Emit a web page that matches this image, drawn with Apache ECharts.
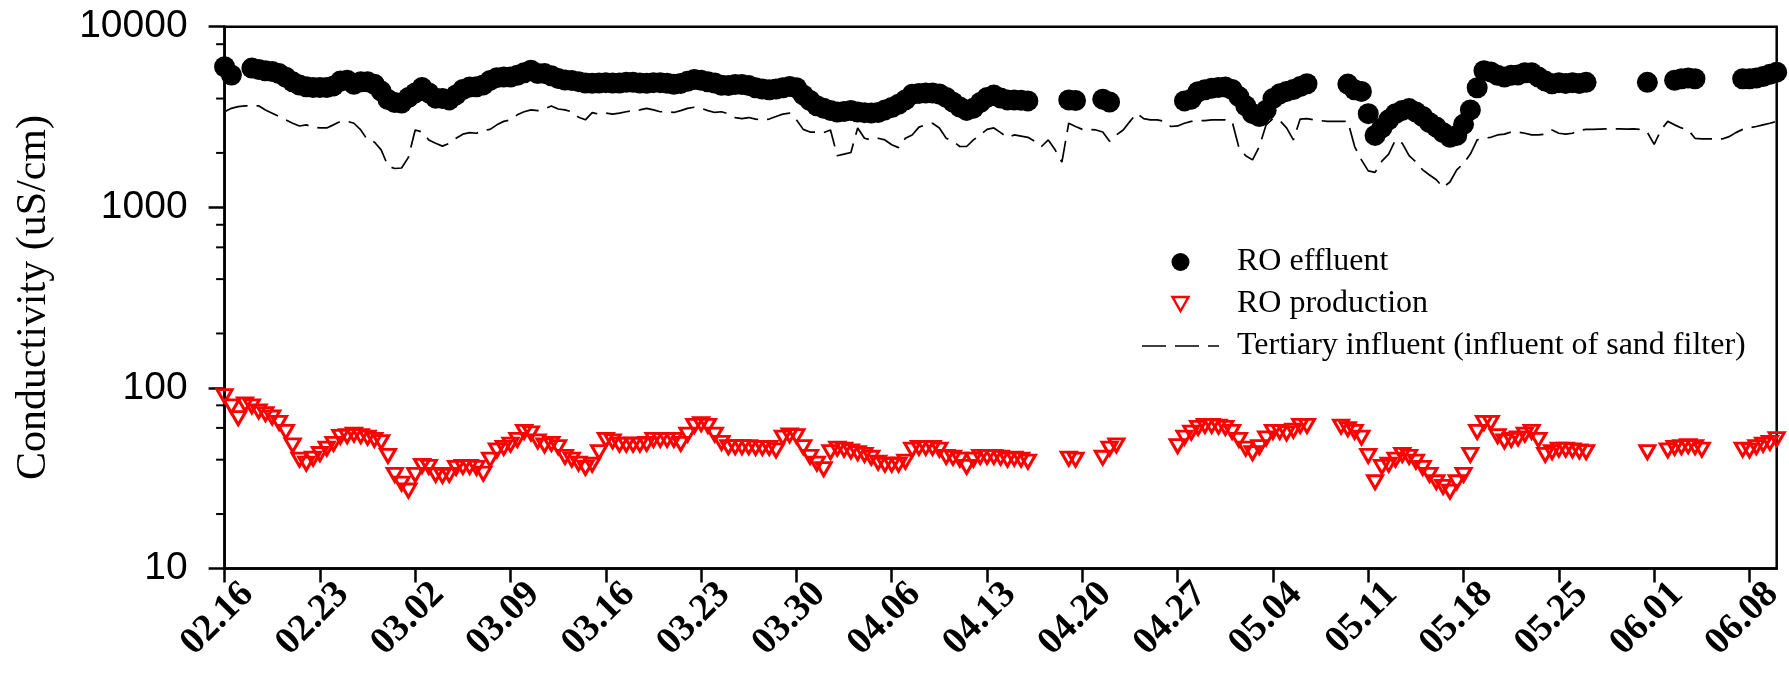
<!DOCTYPE html>
<html>
<head>
<meta charset="utf-8">
<script src="https://cdn.jsdelivr.net/npm/echarts@6/dist/echarts.min.js"></script>
<style>
html, body { margin: 0; padding: 0; background: #fff; }
#chart { width: 1789px; height: 674px; }
</style>
</head>
<body>
<div id="chart"></div>
<script>
// Tick labels (one per week, starting 02.16)
const tickLabels = ['02.16','02.23','03.02','03.09','03.16','03.23','03.30','04.06','04.13','04.20','04.27','05.04','05.11','05.18','05.25','06.01','06.08'];
const yMinorTicks = [20, 40, 60, 80, 200, 400, 600, 800, 2000, 4000, 6000, 8000];
const seriesNames = ['RO effluent', 'RO production', 'Tertiary influent (influent of sand filter)'];
// samples every half day from 02.16 (day 0) to day 114
const sampleStepDays = 0.5;

const effluent = [
  6000, 5400, null, null, 5900, 5800, 5700, 5650, 5500, 5250,
  4950, 4750, 4650, 4600, 4600, 4600, 4700, 5000, 5050, 4800,
  4950, 4950, 4800, 4400, 3950, 3800, 3780, 4050, 4300, 4600,
  4300, 4020, 4000, 3930, 4190, 4490, 4640, 4650, 4760, 5040,
  5220, 5260, 5260, 5380, 5560, 5740, 5500, 5500, 5350, 5170,
  5060, 5040, 4960, 4880, 4860, 4880, 4900, 4880, 4880, 4920,
  4920, 4880, 4860, 4900, 4900, 4860, 4800, 4850, 4980, 5100,
  5050, 4950, 4880, 4740, 4720, 4780, 4780, 4720, 4590, 4520,
  4470, 4520, 4590, 4660, 4590, 4190, 3900, 3650, 3540, 3440,
  3370, 3390, 3440, 3370, 3340, 3330, 3350, 3460, 3570, 3720,
  3930, 4220, 4270, 4300, 4300, 4240, 4060, 3820, 3590, 3440,
  3540, 3800, 4060, 4180, 4030, 3930, 3930, 3910, 3880, null,
  null, null, null, null, 3930, 3900, null, null, null, 3970,
  3830, null, null, null, null, null, null, null, null, null,
  null, 3880, 3970, 4360, 4470, 4560, 4610, 4640, 4490, 4100,
  3650, 3300, 3180, 3450, 4000, 4250, 4380, 4490, 4660, 4830,
  null, null, null, null, null, 4810, 4470, 4380, 3300, 2500,
  2750, 3050, 3300, 3440, 3520, 3370, 3180, 2940, 2780, 2590,
  2440, 2500, 2880, 3460, 4590, 5700, 5620, 5380, 5260, 5380,
  5410, 5560, 5560, 5260, 5000, 4830, 4900, 4850, 4900, 4850,
  4920, null, null, null, null, null, null, null, null, 4920,
  null, null, null, 5050, 5150, 5200, 5150, null, null, null,
  null, null, null, 5150, 5150, 5200, 5300, 5450, 5600
];

const production = [
  90, 79, 68, 81, 79, 74, 71.5, 68.5, 64, 57,
  48, 40, 38, 40.5, 43, 46, 49, 53.5, 54, 55,
  54, 53, 51.5, 50, 42, 33, 29.5, 27, 33, 37,
  36.5, 33, 32.5, 33, 36, 36.5, 36.5, 36, 33.5, 40,
  45, 46.5, 48.5, 51.5, 57, 56, 50.5, 48, 49, 47,
  41.5, 40, 38, 36, 37.5, 44, 51.5, 50.5, 48.5, 48.5,
  48.5, 48.5, 49, 51.5, 51.5, 51.5, 51.5, 49, 55, 61.5,
  63, 61.5, 55, 49.5, 47, 47, 47, 47, 46.5, 46.5,
  46.5, 45, 53, 54.5, 54, 47, 41.5, 38, 35.5, 44,
  46, 45.5, 44.5, 43.5, 42.5, 41, 38.5, 37.5, 37.5, 37.5,
  39, 45.5, 46.5, 46.5, 46.5, 45.5, 41.5, 41, 40, 36.5,
  40, 41.5, 41.5, 41.5, 41, 40, 40.5, 40, 39, null,
  null, null, null, null, 40.5, 40, null, null, null, 41,
  46, 48, null, null, null, null, null, null, null, null,
  47.5, 53, 56.5, 60, 61.5, 61.5, 61, 60, 57, 51.5,
  46, 43.5, 47, 52.5, 57, 57, 56, 58, 61.5, 61.5,
  null, null, null, null, 61, 59, 57, 53, 42, 30,
  36.5, 37.5, 40, 42.5, 41.5, 39, 36, 33, 30, 28.3,
  26.6, 30, 33, 42.5, 57, 64, 64, 54, 50.5, 51.5,
  52.5, 55, 57, 51.5, 42.5, 44, 45.5, 45.5, 45, 44.5,
  44, null, null, null, null, null, null, null, null, 44,
  null, null, 45, 46.5, 47, 47.5, 47, 45.5, null, null,
  null, null, null, 45.5, 45, 47, 48.5, 49.5, 52
];

const influent = [
  3380, 3530, 3610, 3640, 3640, 3650, 3460, 3320, 3180, 3050,
  2920, 2820, 2860, 2780, 2750, 2750, 2860, 2990, 2990, 2920,
  2680, 2360, 2300, 2080, 1690, 1640, 1650, 1890, 2680, 2610,
  2360, 2260, 2180, 2260, 2410, 2540, 2590, 2570, 2660, 2700,
  2860, 2990, 3050, 3250, 3380, 3460, 3430, 3500, 3640, 3500,
  3460, 3380, 3150, 3050, 3340, 3280, 3320, 3280, 3320, 3380,
  3430, 3460, 3530, 3460, 3380, 3380, 3350, 3430, 3530, 3580,
  3530, 3430, 3350, 3380, 3290, 3140, 3100, 3140, 3080, 3050,
  3080, 3180, 3280, 3320, 3050, 2700, 2610, 2610, 2590, 2680,
  1930, 1970, 2010, 2750, 2410, 2360, 2410, 2360, 2220, 2140,
  2410, 2515, 2780, 2860, 2920, 2750, 2410, 2320, 2170, 2170,
  2360, 2515, 2700, 2750, 2590, 2440, 2515, 2480, 2440, 2320,
  2170, 2360, 2080, 1780, 2920, 2800, 2700, 2700, 2680, 2610,
  2320, 2515, 2680, 2990, 3320, 3100, 3050, 3050, 2990, 2800,
  2820, 2920, 2990, 3010, 3020, 3050, 3050, 3050, 2990, 2140,
  1930, 1830, 2170, 2860, 3100, 3020, 2750, 2360, 3080, 3100,
  3050, 3020, 2990, 2990, 2990, 2990, 2170, 1830, 1590, 1560,
  1800, 1970, 2360, 2260, 1930, 1780, 1610, 1510, 1420, 1290,
  1380, 1610, 1750, 1970, 2360, 2410, 2440, 2515, 2540, 2610,
  2610, 2570, 2515, 2515, 2540, 2680, 2570, 2540, 2570, 2660,
  2700, 2700, 2710, 2720, 2720, 2720, 2710, 2720, 2700, 2600,
  2230, 2680, 2990, 2860, 2750, 2680, 2410, 2390, 2390, 2390,
  2390, 2460, 2590, 2700, 2760, 2800, 2860, 2920, 2990
];

function toPairs(values) {
  const out = [];
  values.forEach(function (v, i) {
    if (v !== null && v !== undefined) out.push([i * sampleStepDays, v]);
  });
  return out;
}
const tickDays = tickLabels.map(function (_, i) { return i * 7; });

const chart = echarts.init(document.getElementById('chart'), null, { renderer: 'canvas' });
const option = {
  animation: false,
  backgroundColor: '#ffffff',
  grid: {
    left: 224.6, right: 12.3, top: 26.7, bottom: 105.6,
    show: true, borderColor: '#000', borderWidth: 2.5, backgroundColor: 'transparent'
  },
  legend: {
    orient: 'vertical',
    left: 1142, top: 246,
    padding: 0,
    itemWidth: 77, itemHeight: 18, itemGap: 10,
    symbolKeepAspect: true,
    textStyle: { fontFamily: 'Liberation Serif', fontSize: 32, color: '#000', lineHeight: 32, padding: [0, 0, 0, 13] },
    data: [
      { name: seriesNames[0], icon: 'circle', itemStyle: { color: '#000', opacity: 1, borderWidth: 0 } },
      { name: seriesNames[1], icon: 'path://M0,2 L16,2 L8,16 Z M8,0 L8,0 M8,18 L8,18',
        itemStyle: { color: 'rgba(255,255,255,0)', borderColor: '#ff0000', borderWidth: 2.4 } },
      { name: seriesNames[2], icon: 'path://M0,0 L24,0 L24,1.7 L0,1.7 Z M33,0 L57,0 L57,1.7 L33,1.7 Z M66,0 L77,0 L77,1.7 L66,1.7 Z',
        itemStyle: { color: '#000', borderWidth: 0 } }
    ]
  },
  xAxis: {
    type: 'value', min: 0, max: 114,
    splitLine: { show: false },
    axisLine: { lineStyle: { color: '#000', width: 2.5 } },
    axisTick: { show: true, customValues: tickDays, length: 14, lineStyle: { color: '#000', width: 2.5 } },
    axisLabel: {
      customValues: tickDays,
      formatter: function (v) { return tickLabels[Math.round(v / 7)]; },
      rotate: 45, margin: -3,
      align: 'right', verticalAlign: 'top', lineHeight: 38, padding: [13.7, 0, 0, 0],
      fontFamily: 'Liberation Serif', fontWeight: 'bold', fontSize: 38, color: '#000'
    }
  },
  yAxis: {
    type: 'log', logBase: 10, min: 10, max: 10000,
    name: 'Conductivity (uS/cm)', nameLocation: 'middle', nameGap: 170,
    nameTextStyle: { fontFamily: 'Liberation Serif', fontSize: 42, color: '#000' },
    splitLine: { show: false },
    axisLine: { show: true, lineStyle: { color: '#000', width: 2.5 } },
    axisTick: { show: true, length: 16, lineStyle: { color: '#000', width: 2.5 } },
    axisLabel: {
      fontFamily: 'Liberation Sans', fontSize: 39, color: '#000', margin: 37,
      formatter: function (v) { return String(Math.round(v)); }
    }
  },
  series: [
    {
      name: seriesNames[0], type: 'scatter',
      symbol: 'circle', symbolSize: 21,
      itemStyle: { color: '#000', opacity: 1 },
      data: toPairs(effluent)
    },
    {
      name: seriesNames[1], type: 'scatter',
      symbol: 'triangle', symbolRotate: 180, symbolSize: [15, 13],
      itemStyle: { color: 'rgba(255,255,255,0)', borderColor: '#ff0000', borderWidth: 3, opacity: 1 },
      data: toPairs(production)
    },
    {
      name: seriesNames[2], type: 'line',
      showSymbol: false, symbol: 'none',
      lineStyle: { color: '#000', width: 1.7, type: [24, 9] },
      itemStyle: { color: '#000' },
      data: toPairs(influent)
    }
  ]
};
chart.setOption(option);

// minor ticks of the log axis (2, 4, 6, 8 of each decade), placed through the axis scale
const axisX = chart.convertToPixel({ xAxisIndex: 0 }, 0);
chart.setOption({
  graphic: yMinorTicks.map(function (v) {
    const y = chart.convertToPixel({ yAxisIndex: 0 }, v);
    return {
      type: 'line', silent: true, z: 10,
      shape: { x1: axisX - 8.5, y1: y, x2: axisX, y2: y },
      style: { stroke: '#000', lineWidth: 2 }
    };
  })
});
</script>
</body>
</html>
